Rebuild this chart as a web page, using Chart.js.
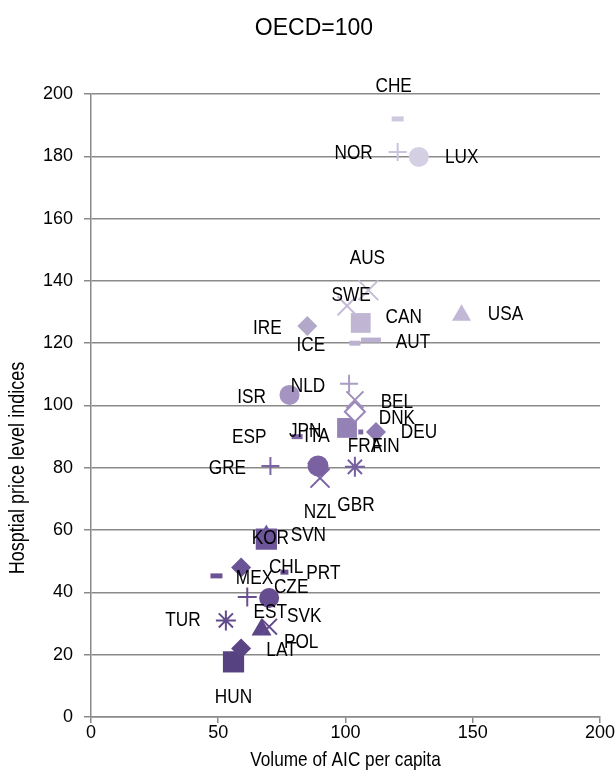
<!DOCTYPE html>
<html>
<head>
<meta charset="utf-8">
<script src="https://cdn.jsdelivr.net/npm/chart.js@4/dist/chart.umd.min.js"></script>
<style>
  body { margin: 0; background: #fff; }
  canvas { display: block; }
</style>
</head>
<body>
<canvas id="chart" width="616" height="770"></canvas>
<script>
// data
const countries = ['CHE', 'NOR', 'LUX', 'AUS', 'SWE', 'CAN', 'USA', 'AUT', 'ICE', 'IRE',
  'ISR', 'NLD', 'BEL', 'DNK', 'DEU', 'FRA', 'FIN', 'ESP', 'ITA', 'JPN', 'GRE', 'NZL', 'GBR',
  'KOR', 'SVN', 'CHL', 'MEX', 'PRT', 'CZE', 'EST', 'SVK', 'TUR', 'LAT', 'POL', 'HUN'];
const volume = [120.5, 120.5, 128.8, 109, 100.6, 106, 145.6, 110, 103.7, 85,
  78, 101.4, 103.7, 103.7, 112, 100.6, 106, 81, 89.2, 86.9, 70.5, 90, 103.7,
  68.9, 68.9, 59, 49.3, 76, 70, 61.4, 70, 53, 67, 59, 56];
const priceLevel = [192, 181.4, 179.8, 137, 132, 126.5, 129, 121, 120, 125.5,
  103.4, 107, 101.8, 98, 91.5, 92.8, 91.5, 90, 80.6, 81.5, 80.6, 76.7, 80.3,
  57.1, 58.6, 48, 45.3, 46.5, 38.2, 38.5, 29, 31, 28, 22, 17.7];
const xTicks = [0, 50, 100, 150, 200];
const yTicks = [0, 20, 40, 60, 80, 100, 120, 140, 160, 180, 200];

const chartTitle = 'OECD=100';
const xTitle = 'Volume of AIC per capita';
const yTitle = 'Hosptial price level indices';

// marker styles
const markers = ['line', 'cross', 'circle', 'crossRot', 'crossRot', 'rect', 'triangle', 'line', 'line', 'rectRot',
  'circle', 'cross', 'crossRot', 'rectRot', 'rectRot', 'rect', 'rect', 'line', 'circle', 'rectRot', 'cross', 'crossRot', 'star',
  'rect', 'triangle', 'rectRot', 'line', 'line', 'circle', 'cross', 'crossRot', 'star', 'triangle', 'rectRot', 'rect'];
const radii = [6, 9, 10, 14, 13.5, 14, 11, 10, 5.5, 10,
  10, 9, 12, 10, 10, 14, 3.5, 5.5, 10.5, 5, 9, 13.5, 10,
  15, 10, 10, 6, 4, 10, 9.5, 11, 10, 11.5, 10, 15];
const colors = ['#cfc8df', '#cbc3dc', '#d4cfe3', '#c6bdd8', '#c3b9d6', '#c0b6d4', '#c2b8d5', '#bbb0d0', '#bdb2d1', '#b3a7ca',
  '#a594c2', '#ab9cc6', '#9f8dbd', '#9a88ba', '#8e7ab3', '#9482b7', '#7d67a5', '#7e67a6', '#7a62a2', '#7a62a2', '#7c65a4', '#7a63a2', '#77609f',
  '#6c5598', '#715a9b', '#6a5396', '#6b5496', '#684f93', '#654d8f', '#674f91', '#634b8d', '#624a8c', '#5d4687', '#5a4484', '#574281'];
const hollow = ['DNK'];
// label offsets from the marker, px
const labelDx = [-4, -44, 43, -1, 4, 43, 44, 42, -44, -40,
  -38, -41, 42, 42, 43, 18, 25, -48, -1, -7, -43, 0, 1,
  4, 42, 45, 38, 39, 22, 23, 35, -43, 20, 60, 0];
const labelDy = [-33, 1, 0, -32, -11, -6, -1, 2, 2, 2,
  2, 3, 2, 6, 0, 18, 14, 1, -30, -32, 2, 34, 38,
  -1, 1, 0, 2, 1, -11, 15, -10, 0, 20, -6, 35];

const sans = "'Liberation Sans', Arial, sans-serif";
const gridGrey = '#8a8a8a';

const datasets = countries.map((c, i) => {
  const isLine = markers[i] === 'line';
  const isStroke = ['cross', 'crossRot', 'star'].includes(markers[i]);
  const open = hollow.includes(c);
  return {
    label: c,
    data: [{ x: volume[i], y: priceLevel[i] }],
    pointStyle: markers[i],
    pointRadius: radii[i],
    backgroundColor: open ? '#ffffff' : colors[i],
    borderColor: colors[i],
    pointBorderWidth: isLine ? 5 : (isStroke || open ? 2 : 0)
  };
});

// condensed text, like Arial Narrow
function narrowText(ctx, text, x, y, size, rotate) {
  ctx.save();
  ctx.translate(x, y);
  if (rotate) ctx.rotate(-Math.PI / 2);
  ctx.scale(0.82, 1);
  ctx.font = size + 'px ' + sans;
  ctx.fillStyle = '#000';
  ctx.textAlign = 'center';
  ctx.textBaseline = 'middle';
  ctx.fillText(text, 0, 0);
  ctx.restore();
}

const textLayer = {
  id: 'textLayer',
  afterDatasetsDraw(chart) {
    const ctx = chart.ctx;
    countries.forEach((c, i) => {
      const pt = chart.getDatasetMeta(i).data[0];
      narrowText(ctx, c, pt.x + labelDx[i], pt.y + labelDy[i], 21, false);
    });
  },
  afterDraw(chart) {
    const ctx = chart.ctx;
    const area = chart.chartArea;
    ctx.save();
    ctx.font = '23px ' + sans;
    ctx.fillStyle = '#000';
    ctx.textAlign = 'center';
    ctx.textBaseline = 'middle';
    ctx.fillText(chartTitle, 314, 29);
    ctx.restore();
    narrowText(ctx, xTitle, (area.left + area.right) / 2, 760, 21, false);
    narrowText(ctx, yTitle, 18, 468, 22, true);
  }
};

new Chart(document.getElementById('chart'), {
  type: 'scatter',
  data: { datasets },
  plugins: [textLayer],
  options: {
    responsive: false,
    animation: false,
    layout: { padding: { left: 0, right: 14, top: 94, bottom: 0 } },
    plugins: {
      legend: { display: false },
      tooltip: { enabled: false },
      title: { display: false }
    },
    scales: {
      x: {
        min: 0, max: 200,
        afterBuildTicks: (axis) => { axis.ticks = xTicks.map(v => ({ value: v })); },
        afterFit: (axis) => { axis.height = 53; },
        grid: { drawOnChartArea: false, drawTicks: true, tickLength: 6, color: gridGrey, lineWidth: 1.5 },
        border: { color: gridGrey, width: 1.5 },
        ticks: { color: '#000', padding: 1, maxRotation: 0, font: { family: sans, size: 18, lineHeight: 1 } }
      },
      y: {
        min: 0, max: 200,
        afterBuildTicks: (axis) => { axis.ticks = yTicks.map(v => ({ value: v })); },
        afterFit: (axis) => { axis.width = 91; },
        grid: { color: gridGrey, lineWidth: 1.5, tickLength: 7 },
        border: { color: gridGrey, width: 1.5 },
        ticks: { color: '#000', padding: 11, font: { family: sans, size: 18, lineHeight: 1 } }
      }
    }
  }
});
</script>
</body>
</html>
